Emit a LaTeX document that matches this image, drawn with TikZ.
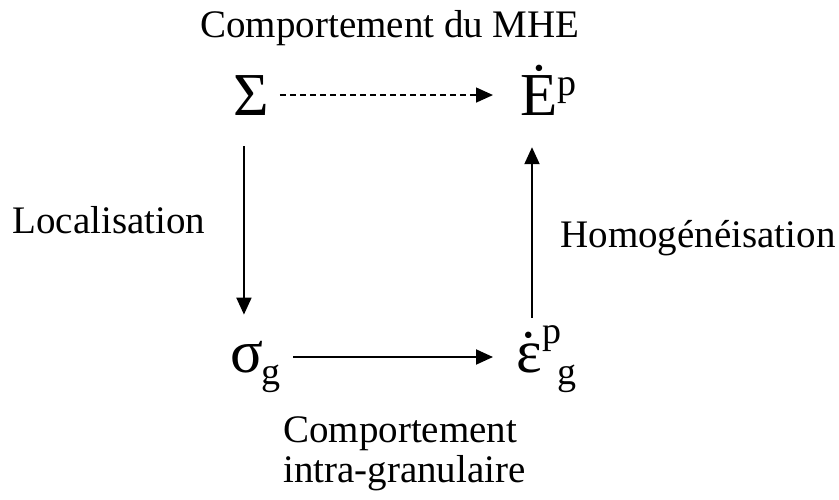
\documentclass[tikz,border=0pt]{standalone}
\usepackage{fontspec}
\setmainfont{Liberation Serif}
\usetikzlibrary{arrows.meta}
\tikzset{
  labeltext/.style={inner sep=0pt, anchor=base, font=\fontsize{39}{40}\selectfont},
  symbnode/.style={inner sep=0pt, anchor=base west, font=\fontsize{61}{62}\selectfont},
  arr/.style={-{Triangle[length=17pt,width=15pt]}, line width=2pt},
}
\newcommand\petit[2]{\raisebox{#1}{\fontsize{38}{38}\selectfont #2}}

\begin{document}
\begin{tikzpicture}[x=1pt,y=1pt]
  \useasboundingbox (0,0) rectangle (839,-499);
  % Title
  \node[labeltext] (titre) at (390,-37) {Comportement du MHE};

  % Symbols
  \node[symbnode] (sig) at (233,-115) {Σ};
  \node[symbnode] (Ep) at (520,-115) {Ė\petit{20pt}{p}};
  \node[symbnode] (sg) at (230,-372) {σ\kern-2pt\petit{-12pt}{g}};
  \node[symbnode] (eg) at (516,-372) {\accent"02D9 ε\kern1pt\petit{29pt}{p}\kern-4pt\petit{-12pt}{g}};

  % Labels
  \node[labeltext] (loc) at (109,-233) {Localisation};
  \node[labeltext] (homog) at (698,-247) {Homogénéisation};
  \node[labeltext, anchor=base west, align=left] (intra) at (283,-482)
        {Comportement\\intra-granulaire};

  % Arrows
  \draw[arr, line width=1.5pt, dash pattern=on 6pt off 4pt, shorten <=11pt, shorten >=27pt]
    (sig.east) -- (sig.east -| Ep.west);
  \draw[arr, shorten <=31pt, shorten >=26pt]
    ([xshift=-7pt]sig.south) -- ([xshift=-7pt]sig.south |- sg.north);
  \draw[arr, shorten <=13pt, shorten >=23pt]
    ([yshift=15pt]sg.base east) -- ([yshift=15pt]sg.base east -| eg.west);
  \draw[arr, shorten <=7pt, shorten >=32pt]
    ([xshift=16pt]eg.north west) -- ([xshift=16pt]eg.north west |- Ep.south);
\end{tikzpicture}
\end{document}
